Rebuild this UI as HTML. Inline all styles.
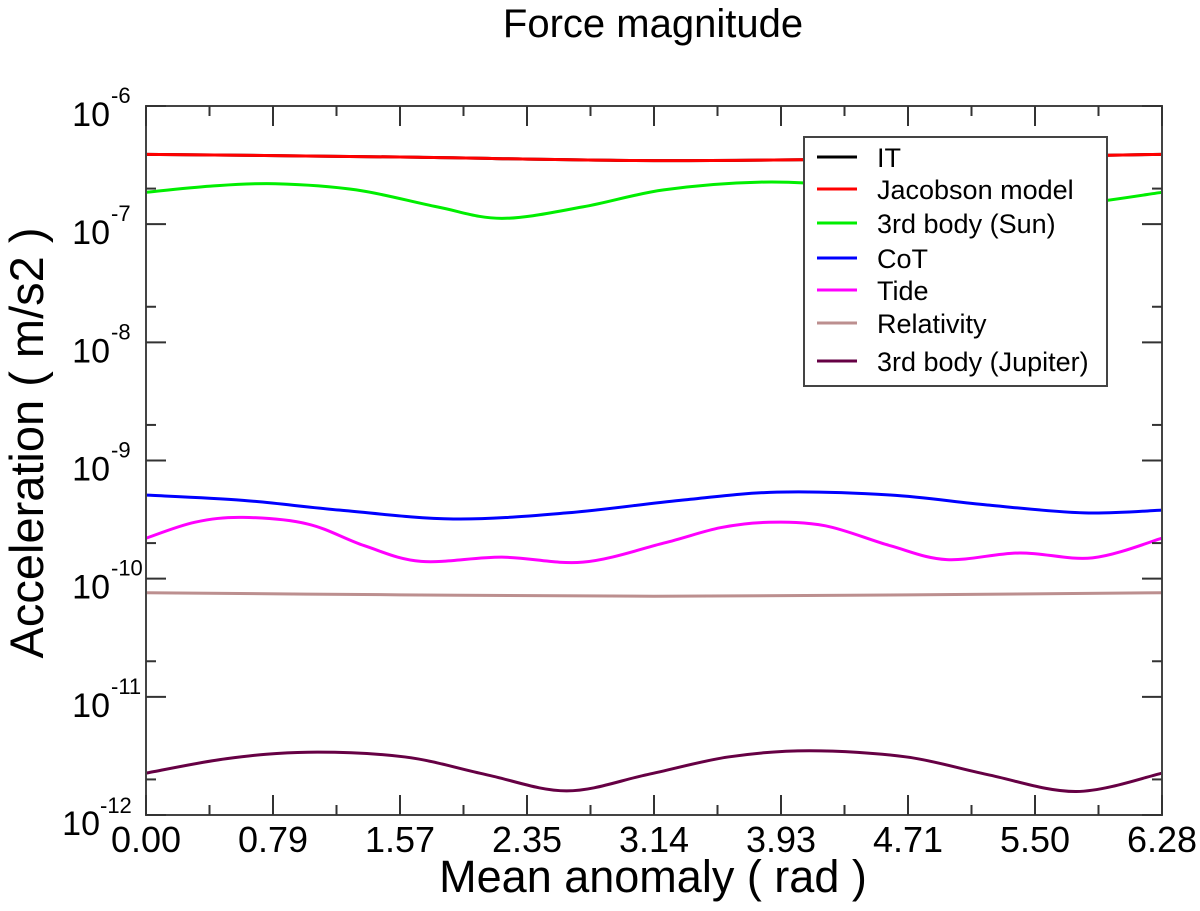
<!DOCTYPE html>
<html><head><meta charset="utf-8"><style>
body{margin:0;background:#fff;}
svg{display:block;font-family:"Liberation Sans",sans-serif;}
</style></head><body>
<svg id="chart" width="1200" height="911">
<text x="653" y="37" font-size="40" text-anchor="middle">Force magnitude</text>
<g id="plot"></g>
<text x="653" y="892" font-size="45" text-anchor="middle">Mean anomaly ( rad )</text>
<text transform="translate(43,443) rotate(-90)" font-size="47" text-anchor="middle">Acceleration ( m/s2  )</text>
</svg>
<script>
const xTickLabels=["0.00","0.79","1.57","2.35","3.14","3.93","4.71","5.50","6.28"];
const yDecades=[-6,-7,-8,-9,-10,-11,-12];
const seriesNames=["IT","Jacobson model","3rd body (Sun)","CoT","Tide","Relativity","3rd body (Jupiter)"];
const seriesColors=["#000000","#ff0000","#00ee00","#0000ff","#ff00ff","#bc8f8f","#660044"];
const xIT=[0,1.57,3.14,4.71,6.28];
const vIT=[3.9e-7,3.7e-7,3.45e-7,3.6e-7,3.9e-7];
const xJac=[0,1.57,3.14,4.71,6.28];
const vJac=[3.9e-7,3.7e-7,3.45e-7,3.6e-7,3.9e-7];
const xSun=[0,0.4,0.8,1.3,1.8,2.2,2.7,3.2,3.8,4.3,4.8,5.3,5.8,6.28];
const vSun=[1.86e-7,2.1e-7,2.2e-7,1.95e-7,1.4e-7,1.12e-7,1.4e-7,1.95e-7,2.27e-7,2.1e-7,1.6e-7,1.3e-7,1.5e-7,1.86e-7];
const xCoT=[0,0.6,1.2,1.9,2.6,3.3,3.9,4.6,5.2,5.8,6.28];
const vCoT=[5.1e-10,4.6e-10,3.8e-10,3.2e-10,3.6e-10,4.6e-10,5.4e-10,5.1e-10,4.2e-10,3.6e-10,3.8e-10];
const xTide=[0,0.3,0.6,1.0,1.35,1.7,2.2,2.7,3.2,3.55,3.85,4.2,4.6,4.95,5.4,5.85,6.28];
const vTide=[2.2e-10,3.0e-10,3.3e-10,2.9e-10,1.9e-10,1.4e-10,1.52e-10,1.38e-10,2.0e-10,2.7e-10,3.0e-10,2.8e-10,1.9e-10,1.45e-10,1.65e-10,1.5e-10,2.2e-10];
const xRel=[0,1.57,3.14,4.71,6.28];
const vRel=[7.6e-11,7.3e-11,7.1e-11,7.3e-11,7.6e-11];
const xJup=[0,0.5,1.0,1.6,2.1,2.6,3.1,3.6,4.1,4.7,5.2,5.75,6.28];
const vJup=[2.26e-12,3.0e-12,3.4e-12,3.1e-12,2.2e-12,1.6e-12,2.2e-12,3.1e-12,3.5e-12,3.1e-12,2.2e-12,1.58e-12,2.26e-12];
const allX=[xIT,xJac,xSun,xCoT,xTide,xRel,xJup];
const allV=[vIT,vJac,vSun,vCoT,vTide,vRel,vJup];

const L=146,R=1162,T=106,B=815,XMAX=6.28;
const sx=x=>L+(x/XMAX)*(R-L);
const sy=v=>T+(-6-Math.log10(v))*(B-T)/6;
const NS="http://www.w3.org/2000/svg";
const plot=document.getElementById('plot');
function mk(tag,attrs,parent){const e=document.createElementNS(NS,tag);for(const k in attrs)e.setAttribute(k,attrs[k]);(parent||plot).appendChild(e);return e;}

allX.forEach((xs,si)=>{
  const pts=xs.map((x,i)=>[sx(x),sy(allV[si][i])]);
  let d="M"+pts[0][0]+","+pts[0][1];
  for(let i=0;i<pts.length-1;i++){
    const p0=pts[Math.max(0,i-1)],p1=pts[i],p2=pts[i+1],p3=pts[Math.min(pts.length-1,i+2)];
    const c1=[p1[0]+(p2[0]-p0[0])/6,p1[1]+(p2[1]-p0[1])/6];
    const c2=[p2[0]-(p3[0]-p1[0])/6,p2[1]-(p3[1]-p1[1])/6];
    d+=" C"+c1+" "+c2+" "+p2;
  }
  const p=mk('path',{d:d,fill:'none',stroke:seriesColors[si],'stroke-width':3});
  
  
});

const fr=mk('rect',{x:L,y:T,width:R-L,height:B-T,fill:'none',stroke:'#444','stroke-width':2});



xTickLabels.forEach((lab,i)=>{
  const x=L+i*(R-L)/8;
  mk('line',{x1:x,y1:B,x2:x,y2:B-20,stroke:'#333','stroke-width':2});
  mk('line',{x1:x,y1:T,x2:x,y2:T+20,stroke:'#333','stroke-width':2});
  if(i<8){const xm=x+(R-L)/16;
    mk('line',{x1:xm,y1:B,x2:xm,y2:B-10,stroke:'#333','stroke-width':2});
    mk('line',{x1:xm,y1:T,x2:xm,y2:T+10,stroke:'#333','stroke-width':2});}
  const t=mk('text',{x:x,y:852,'font-size':36,'text-anchor':'middle'});
  t.textContent=lab;
  
  
});
yDecades.forEach(e=>{
  const y=sy(Math.pow(10,e));
  mk('line',{x1:L,y1:y,x2:L+20,y2:y,stroke:'#333','stroke-width':2});
  mk('line',{x1:R,y1:y,x2:R-20,y2:y,stroke:'#333','stroke-width':2});
  if(e>-12){const ym=sy(2*Math.pow(10,e-1));
    mk('line',{x1:L,y1:ym,x2:L+10,y2:ym,stroke:'#333','stroke-width':2});
    mk('line',{x1:R,y1:ym,x2:R-10,y2:ym,stroke:'#333','stroke-width':2});}
  const low=(e===-12);
  const t=mk('text',{x:low?100:110,y:low?835:y+20,'font-size':34,'text-anchor':'end'});
  t.textContent='10';
  
  
  const s=mk('text',{x:low?100:111,y:low?813:y-3,'font-size':22,'text-anchor':'start'});
  s.textContent=String(e);
});

const lg=mk('g',{});


mk('rect',{x:804,y:137,width:303,height:249,fill:'#fff',stroke:'#444','stroke-width':2},lg);
const ly=[157,189,223,258,290,323,361];
seriesNames.forEach((n,i)=>{
  const g=mk('g',{},lg);
  
  
  mk('line',{x1:817,y1:ly[i],x2:857,y2:ly[i],stroke:seriesColors[i],'stroke-width':3},g);
  const t=mk('text',{x:877,y:ly[i]+10,'font-size':27},g);
  t.textContent=n;
});
</script>
</body></html>
